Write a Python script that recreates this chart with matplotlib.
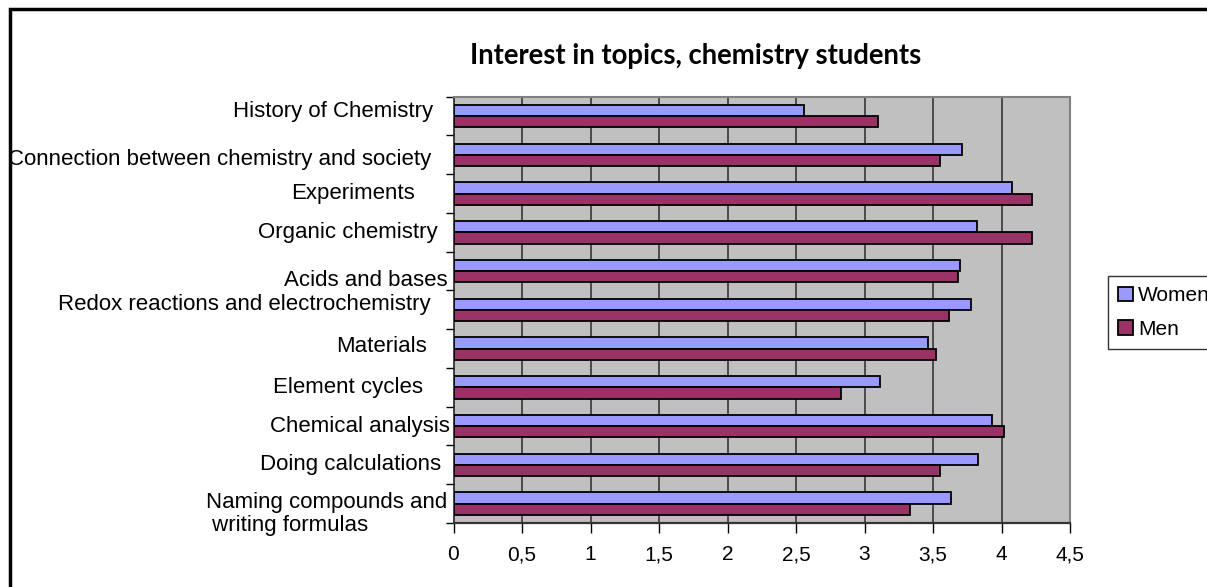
import matplotlib
matplotlib.use("Agg")
import matplotlib.pyplot as plt
import matplotlib.transforms as mtransforms
from matplotlib.patches import Rectangle
import numpy as np

topics = [
    "History of Chemistry",
    "Connection between chemistry and society",
    "Experiments",
    "Organic chemistry",
    "Acids and bases",
    "Redox reactions and electrochemistry",
    "Materials",
    "Element cycles",
    "Chemical analysis",
    "Doing calculations",
    "Naming compounds and\n writing formulas",
]
women = [2.56, 3.71, 4.08, 3.82, 3.70, 3.78, 3.46, 3.11, 3.93, 3.83, 3.63]
men = [3.10, 3.55, 4.22, 4.22, 3.68, 3.62, 3.52, 2.83, 4.02, 3.55, 3.33]
xticks = [0, 0.5, 1, 1.5, 2, 2.5, 3, 3.5, 4, 4.5]
xtick_labels = ["0", "0,5", "1", "1,5", "2", "2,5", "3", "3,5", "4", "4,5"]

# label placement (Excel put them a bit irregularly): right edge in px, y nudge in category units
label_right = [433, 431, 415, 438, 448, 431, 427, 423, 450, 441, 452]
label_nudge = [-0.13, 0.12, 0.0, 0.0, 0.23, -0.15, -0.06, 0.0, 0.0, 0.0, 0.27]

W, H = 1207, 587
fig = plt.figure(figsize=(W / 100, H / 100), dpi=100)
fig.patch.set_facecolor("white")

ax = fig.add_axes([453.5 / W, 1 - 523 / H, (1070 - 453.5) / W, (523 - 96.7) / H])
ax.set_facecolor("#C0C0C0")

y = np.arange(len(topics))
bh = 0.29
ax.barh(y - bh / 2, women, height=bh, color="#9999FF", edgecolor="black",
        linewidth=1.3, label="Women", zorder=3)
ax.barh(y + bh / 2, men, height=bh, color="#993366", edgecolor="black",
        linewidth=1.3, label="Men", zorder=3)

ax.set_xlim(0, 4.5)
ax.set_ylim(len(topics) - 0.5, -0.5)
ax.set_xticks(xticks)
ax.set_xticklabels(xtick_labels, fontsize=15, family="Liberation Sans")
ax.tick_params(axis="x", direction="out", length=7, width=1, pad=9)
for xv in xticks[1:-1]:
    ax.axvline(xv, color="#2a2a2a", linewidth=1.1, zorder=1)

ax.set_yticks(np.arange(-0.5, len(topics), 1.0))
ax.set_yticklabels([])
ax.tick_params(axis="y", direction="out", length=6, width=1)

ax.spines["left"].set_color("#222222")
ax.spines["bottom"].set_color("#333333")
ax.spines["left"].set_linewidth(1.2)
ax.spines["bottom"].set_linewidth(1.6)
ax.spines["top"].set_color("#808080")
ax.spines["right"].set_color("#808080")
ax.spines["top"].set_linewidth(1.5)
ax.spines["right"].set_linewidth(1.5)

trans = mtransforms.blended_transform_factory(fig.transFigure, ax.transData)
for i, name in enumerate(topics):
    if "\n" in name:
        left = 206
        ax.text(left / W, i + label_nudge[i], name, transform=trans, ha="left",
                va="center", fontsize=16, family="Liberation Sans",
                multialignment="left", linespacing=1.12)
    else:
        ax.text(label_right[i] / W, i + label_nudge[i], name, transform=trans,
                ha="right", va="center", fontsize=16, family="Liberation Sans")

fig.text(696 / W, 1 - 56 / H, "Interest in topics, chemistry students",
         ha="center", va="center", fontsize=19.8, fontweight="bold", family="Lato")

leg = fig.legend(loc="upper left", bbox_to_anchor=(1108 / W, 1 - 276 / H),
                 borderaxespad=0, frameon=True, fancybox=False,
                 prop={"family": "Liberation Sans", "size": 15},
                 handlelength=0.7, handleheight=0.7, handletextpad=0.25,
                 labelspacing=0.7, borderpad=0.5)
leg.get_frame().set_edgecolor("black")
leg.get_frame().set_linewidth(1.0)

# outer chart border, only top and left visible in the crop
fig.patches.append(Rectangle((10 / W, -0.1), 1.2, 1 - 9 / H + 0.1, transform=fig.transFigure,
                             fill=False, edgecolor="black", linewidth=2.5))

fig.savefig("out.png", dpi=100)
